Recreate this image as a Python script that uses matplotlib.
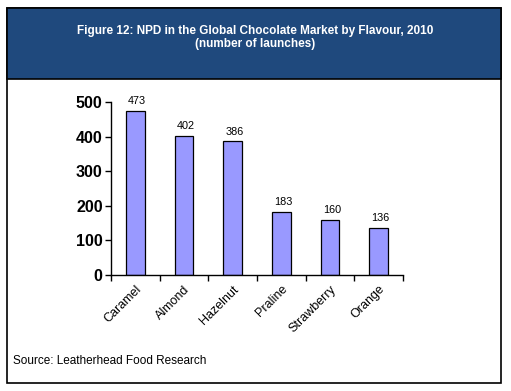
import matplotlib
matplotlib.use('Agg')
from matplotlib import pyplot as plt
from matplotlib.patches import Rectangle

flavours = ['Caramel', 'Almond', 'Hazelnut', 'Praline', 'Strawberry', 'Orange']
launches = [473, 402, 386, 183, 160, 136]

plt.rcParams['font.family'] = ['Liberation Sans', 'DejaVu Sans']

fig = plt.figure(figsize=(5.11, 3.91), dpi=100)

# outer frame and header band (drawn behind the axes)
fig.patches.append(Rectangle((7 / 511, 1 - 383 / 391), 494 / 511, 375 / 391,
                             transform=fig.transFigure, facecolor='white',
                             edgecolor='black', linewidth=1.2, zorder=-2))
fig.patches.append(Rectangle((7 / 511, 1 - 79 / 391), 494 / 511, 71 / 391,
                             transform=fig.transFigure, facecolor='#1F497D',
                             edgecolor='black', linewidth=1.2, zorder=-1))
fig.text(0.5, 1 - 31 / 391, 'Figure 12: NPD in the Global Chocolate Market by Flavour, 2010',
         color='white', fontsize=8.5, fontweight='bold', ha='center', va='center')
fig.text(0.5, 1 - 44 / 391, '(number of launches)',
         color='white', fontsize=8.5, fontweight='bold', ha='center', va='center')
fig.text(13 / 511, 1 - 361 / 391, 'Source: Leatherhead Food Research',
         fontsize=8.5, ha='left', va='center')

ax = fig.add_axes([111 / 511, 1 - 275 / 391, 292 / 511, 173 / 391])
ax.patch.set_alpha(0)
x = list(range(len(flavours)))
bars = ax.bar(x, launches, width=0.39, color='#9999FF', edgecolor='black', linewidth=0.9)
for xi, v in zip(x, launches):
    ax.text(xi + 0.04, v + 14, str(v), ha='center', va='bottom', fontsize=7.8)

ax.set_xlim(-0.5, len(flavours) - 0.5)
ax.set_ylim(0, 500)
ax.set_yticks([0, 100, 200, 300, 400, 500])
ax.set_yticklabels(['0', '100', '200', '300', '400', '500'], fontsize=11.5, fontweight='bold')
ax.set_xticks([i - 0.5 for i in range(len(flavours) + 1)])
ax.set_xticklabels([])
ax.set_xticks(x, minor=True)
ax.set_xticklabels(flavours, minor=True, rotation=45, ha='right', va='top',
                   rotation_mode='anchor', fontsize=9)
ax.tick_params(axis='x', which='minor', length=0, pad=6)
ax.tick_params(axis='x', which='major', direction='out', length=4, width=1)
ax.tick_params(axis='y', direction='out', length=4, width=1, pad=2)
for s in ['top', 'right']:
    ax.spines[s].set_visible(False)
for s in ['left', 'bottom']:
    ax.spines[s].set_linewidth(1)

fig.savefig('out.png', dpi=100)
